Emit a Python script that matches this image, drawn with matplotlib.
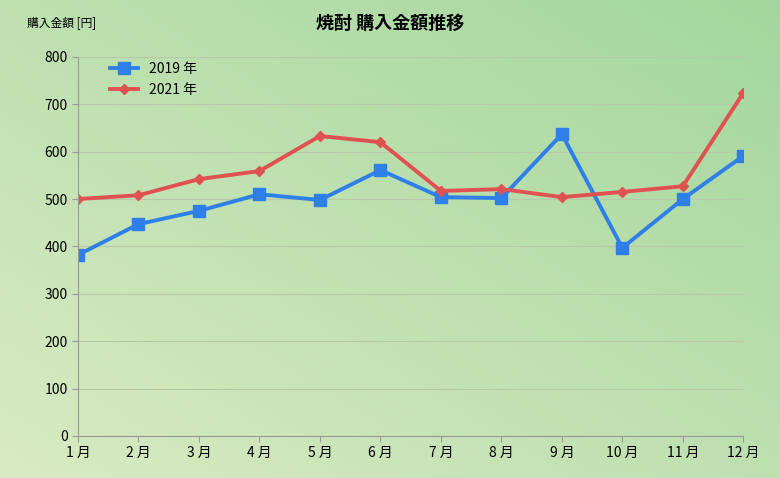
import matplotlib
matplotlib.use("Agg")
import matplotlib.pyplot as plt
import numpy as np

plt.rcParams['font.family'] = ['Noto Sans CJK JP', 'DejaVu Sans']

months = ['1 月', '2 月', '3 月', '4 月', '5 月', '6 月', '7 月', '8 月', '9 月', '10 月', '11 月', '12 月']
y2019 = [382, 447, 475, 510, 498, 561, 504, 502, 637, 397, 500, 591]
y2021 = [500, 508, 542, 559, 633, 620, 517, 521, 504, 515, 527, 724]

fig = plt.figure(figsize=(7.8, 4.78), dpi=100)

# gradient background
bg = fig.add_axes([0, 0, 1, 1], zorder=-1)
gx, gy = np.meshgrid(np.linspace(0, 1, 200), np.linspace(0, 1, 200))
t = np.clip(0.5 * gx + 0.5 * (1 - gy), 0, 1)
c0 = np.array([0.85, 0.92, 0.76])
c1 = np.array([0.64, 0.84, 0.62])
img = c0[None, None, :] * (1 - t[..., None]) + c1[None, None, :] * t[..., None]
bg.imshow(img, aspect='auto', extent=[0, 1, 0, 1])
bg.axis('off')

ax = fig.add_axes([0.1, 0.088, 0.853, 0.793])
ax.patch.set_alpha(0)
x = np.arange(len(months))
ax.plot(x, y2019, color='#2f7fe8', lw=2.8, marker='s', ms=8, label='2019 年')
ax.plot(x, y2021, color='#e05252', lw=2.8, marker='D', ms=5, label='2021 年')
ax.set_xlim(0, 11)
ax.set_ylim(0, 800)
ax.set_yticks(range(0, 801, 100))
ax.set_xticks(x)
ax.set_xticklabels(months)
ax.grid(axis='y', color='#b8c8a8', lw=0.8)
for s in ['top', 'right']:
    ax.spines[s].set_visible(False)
ax.spines['left'].set_color('#999999')
ax.spines['bottom'].set_color('#999999')
ax.tick_params(labelsize=10, length=4, color='#999999')
ax.legend(loc='upper left', bbox_to_anchor=(0.03, 1.02), frameon=False, fontsize=10)
fig.text(0.5, 0.94, '焼酎 購入金額推移', ha='center', fontsize=13, fontweight='bold')
fig.text(0.035, 0.945, '購入金額 [円]', fontsize=8.5)

fig.savefig('out.png')
